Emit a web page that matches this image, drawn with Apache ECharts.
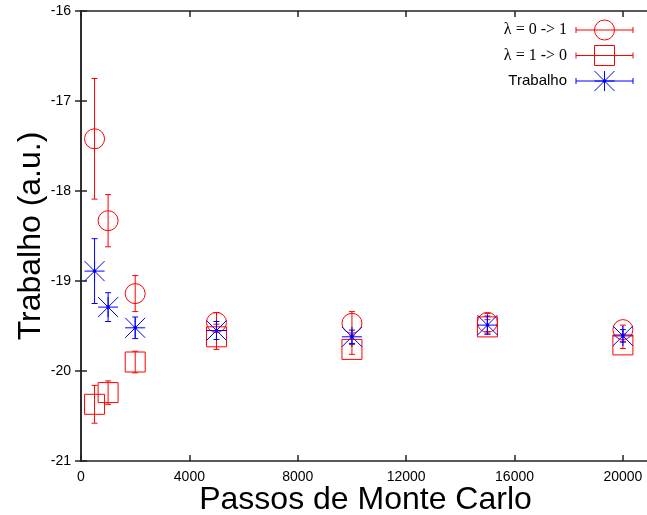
<!DOCTYPE html>
<html>
<head>
<meta charset="utf-8">
<script src="https://cdn.jsdelivr.net/npm/echarts@6/dist/echarts.min.js"></script>
<style>
  html, body { margin: 0; padding: 0; background: #fff; }
  #chart { width: 647px; height: 515px; }
</style>
</head>
<body>
<div id="chart"></div>
<script>
// Monte Carlo steps and the work estimates (with error bars) for each schedule
const passos = [500, 1000, 2000, 5000, 10000, 15000, 20000];
const lambda01 = [-17.42, -18.33, -19.14, -19.46, -19.47, -19.46, -19.54];
const lambda01Err = [0.67, 0.29, 0.20, 0.11, 0.13, 0.10, 0.05];
const lambda10 = [-20.37, -20.24, -19.90, -19.62, -19.76, -19.51, -19.71];
const lambda10Err = [0.21, 0.13, 0.12, 0.14, 0.055, 0.08, 0.04];
const trabalho = [-18.89, -19.29, -19.52, -19.55, -19.62, -19.49, -19.61];
const trabalhoErr = [0.36, 0.16, 0.12, 0.10, 0.075, 0.10, 0.07];

const seriesNames = ['λ = 0 -> 1', 'λ = 1 -> 0', 'Trabalho'];
const xTicks = { min: 0, max: 21000, interval: 4000 };
const yTicks = { min: -21, max: -16, interval: 1 };

const RED = '#ff0000';
const BLUE = '#0000ff';
const FONT = '"Liberation Sans", Arial, Helvetica, sans-serif';
const SERIF = '"Liberation Serif", "Times New Roman", serif';

function rows(xs, ys, errs) {
  return xs.map((x, i) => [x, ys[i], errs[i]]);
}

// Marker shapes, centred at (cx, cy)
function markerShapes(kind, cx, cy, color) {
  const s = 10;
  const stroke = { stroke: color, fill: null, lineWidth: 1 };
  if (kind === 'circle') {
    return [{ type: 'circle', shape: { cx, cy, r: s }, style: stroke }];
  }
  if (kind === 'square') {
    return [{ type: 'rect', shape: { x: cx - s, y: cy - s, width: 2 * s, height: 2 * s }, style: stroke }];
  }
  // asterisk: plus and cross overlaid, with a small centre dot
  const segs = [
    [cx - s, cy, cx + s, cy],
    [cx, cy - s, cx, cy + s],
    [cx - s, cy - s, cx + s, cy + s],
    [cx - s, cy + s, cx + s, cy - s]
  ];
  const out = segs.map(p => ({
    type: 'line', shape: { x1: p[0], y1: p[1], x2: p[2], y2: p[3] }, style: { stroke: color, lineWidth: 1 }
  }));
  out.push({ type: 'circle', shape: { cx, cy, r: 1.8 }, style: { fill: color } });
  return out;
}

function errorSeries(name, data, kind, color) {
  return {
    type: 'custom',
    name,
    data,
    xAxisIndex: 0,
    yAxisIndex: 0,
    clip: false,
    renderItem(params, api) {
      const x = api.value(0), y = api.value(1), e = api.value(2);
      const top = api.coord([x, y + e]);
      const bot = api.coord([x, y - e]);
      const mid = api.coord([x, y]);
      const cap = 3;
      const ls = { stroke: color, lineWidth: 1 };
      const children = [
        { type: 'line', shape: { x1: top[0], y1: top[1], x2: bot[0], y2: bot[1] }, style: ls },
        { type: 'line', shape: { x1: top[0] - cap, y1: top[1], x2: top[0] + cap, y2: top[1] }, style: ls },
        { type: 'line', shape: { x1: bot[0] - cap, y1: bot[1], x2: bot[0] + cap, y2: bot[1] }, style: ls }
      ].concat(markerShapes(kind, mid[0], mid[1], color));
      return { type: 'group', children };
    }
  };
}

// Key in the upper right corner: label, error-bar sample and marker
function legendGraphics() {
  const kinds = ['circle', 'square', 'star'];
  const colors = [RED, RED, BLUE];
  const ys = [30, 55.5, 81];
  const fonts = [SERIF, SERIF, FONT];
  const sizes = [16, 16, 15];
  const g = [];
  const x1 = 576, x2 = 633, xm = 604.5;
  seriesNames.forEach((name, i) => {
    const y = ys[i];
    const c = colors[i];
    g.push({ type: 'text', x: 567, y, style: { text: name, font: sizes[i] + 'px ' + fonts[i], fill: '#000', textAlign: 'right', textVerticalAlign: 'middle' } });
    g.push({ type: 'line', shape: { x1, y1: y, x2, y2: y }, style: { stroke: c, lineWidth: 1 } });
    g.push({ type: 'line', shape: { x1, y1: y - 3, x2: x1, y2: y + 3 }, style: { stroke: c, lineWidth: 1 } });
    g.push({ type: 'line', shape: { x1: x2, y1: y - 3, x2, y2: y + 3 }, style: { stroke: c, lineWidth: 1 } });
    markerShapes(kinds[i], xm, y, c).forEach(s => g.push(s));
  });
  return g;
}

const axisLine = { show: true, lineStyle: { color: '#222', width: 1.5 } };
const tick = { show: true, inside: true, length: 6, lineStyle: { color: '#222', width: 1.5 } };
const plain = v => String(v);

const chart = echarts.init(document.getElementById('chart'), null, { renderer: 'canvas' });
chart.setOption({
  animation: false,
  backgroundColor: '#fff',
  grid: { left: 81, top: 11, right: -3, bottom: 54, containLabel: false, outerBoundsMode: 'none' },
  xAxis: [
    {
      type: 'value', position: 'bottom', ...xTicks,
      axisLine, axisTick: tick, splitLine: { show: false },
      axisLabel: { fontSize: 14, fontFamily: FONT, color: '#000', margin: 9, showMaxLabel: false, formatter: plain },
      name: 'Passos de Monte Carlo', nameLocation: 'middle', nameGap: 23, nameMoveOverlap: false,
      nameTextStyle: { fontSize: 32, fontFamily: FONT, color: '#000' }
    },
    {
      type: 'value', position: 'top', ...xTicks,
      axisLine, axisTick: tick, splitLine: { show: false }, axisLabel: { show: false }
    }
  ],
  yAxis: [
    {
      type: 'value', position: 'left', ...yTicks,
      axisLine, axisTick: tick, splitLine: { show: false },
      axisLabel: { fontSize: 14, fontFamily: FONT, color: '#000', margin: 10, formatter: plain },
      name: 'Trabalho (a.u.)', nameLocation: 'middle', nameGap: 34, nameMoveOverlap: false,
      nameTextStyle: { fontSize: 32, fontFamily: FONT, color: '#000' }
    },
    {
      type: 'value', position: 'right', ...yTicks,
      axisLine, axisTick: tick, splitLine: { show: false }, axisLabel: { show: false }
    }
  ],
  series: [
    errorSeries(seriesNames[0], rows(passos, lambda01, lambda01Err), 'circle', RED),
    errorSeries(seriesNames[1], rows(passos, lambda10, lambda10Err), 'square', RED),
    errorSeries(seriesNames[2], rows(passos, trabalho, trabalhoErr), 'star', BLUE)
  ],
  graphic: legendGraphics()
});
</script>
</body>
</html>
